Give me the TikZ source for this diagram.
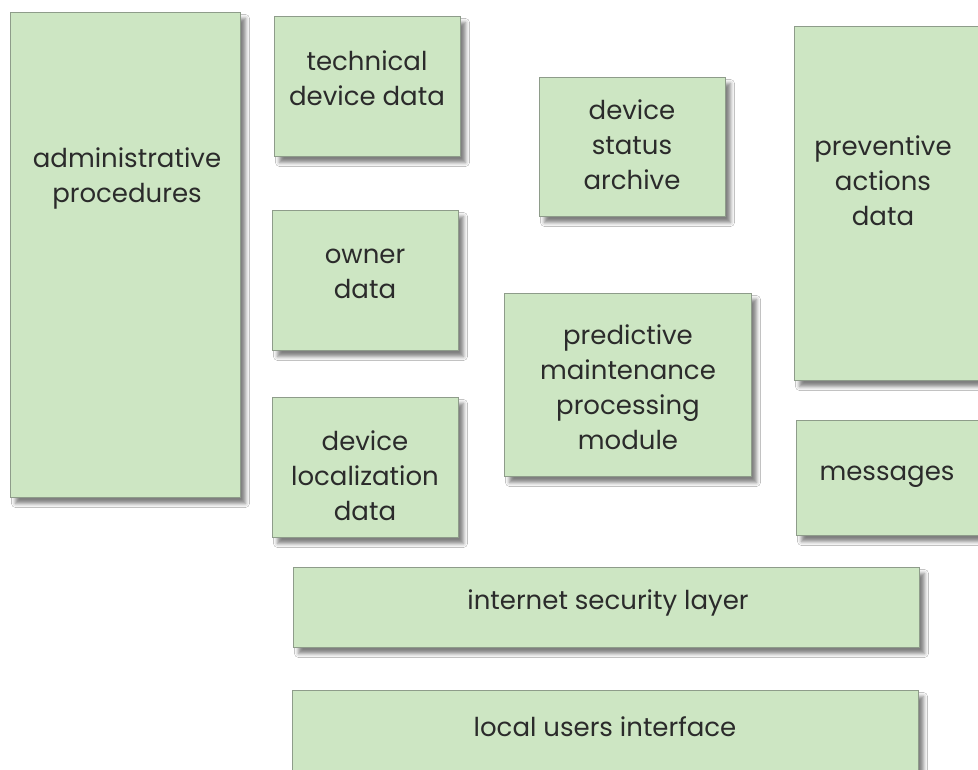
\documentclass[tikz,border=0pt]{standalone}
\usepackage{fontspec}
\setmainfont{Poppins}
\usetikzlibrary{shadows.blur}
\definecolor{boxfill}{HTML}{CDE6C3}
\definecolor{boxline}{HTML}{8E9C8A}
\definecolor{txtcol}{HTML}{2B2B2B}
\tikzset{
  box/.style={draw=boxline, line width=1pt, fill=boxfill, anchor=north west, inner sep=0pt,
    blur shadow={shadow xshift=5pt, shadow yshift=-6pt, shadow blur radius=4pt, shadow opacity=50}},
  txt/.style={align=center, text=txtcol, font=\fontsize{26}{35}\selectfont, inner sep=0pt}
}
\begin{document}
\begin{tikzpicture}[x=1pt,y=-1pt]
\useasboundingbox (0,0) rectangle (978,770);
\clip (0,0) rectangle (978,770);
\fill[white] (0,0) rectangle (978,770);
\node[box, minimum width=230pt, minimum height=485pt] (adm) at (10,12) {};
\node[box, minimum width=186pt, minimum height=140pt] (tech) at (274,16) {};
\node[box, minimum width=186pt, minimum height=139pt] (stat) at (539,77) {};
\node[box, minimum width=200pt, minimum height=354pt] (prev) at (794,26) {};
\node[box, minimum width=186pt, minimum height=140pt] (own) at (272,210) {};
\node[box, minimum width=247pt, minimum height=183pt] (pred) at (504,293) {};
\node[box, minimum width=186pt, minimum height=140pt] (loc) at (272,397) {};
\node[box, minimum width=200pt, minimum height=115pt] (msg) at (796,420) {};
\node[box, minimum width=626pt, minimum height=80pt] (sec) at (293,567) {};
\node[box, minimum width=626pt, minimum height=100pt] (lui) at (292,690) {};
\node[txt] (tadm) at (127,178) {administrative\\procedures};
\node[txt] (ttech) at (367,78) {technical\\device data};
\node[txt] (tstat) at (632,145) {device\\status\\archive};
\node[txt] (tprev) at (883,181) {preventive\\actions\\data};
\node[txt] (town) at (365,274) {owner\\data};
\node[txt] (tpred) at (628,387) {predictive\\maintenance\\processing\\module};
\node[txt] (tloc) at (365,476) {device\\localization\\data};
\node[txt] (tmsg) at (887,477) {messages};
\node[txt] (tsec) at (608,603) {internet security layer};
\node[txt] (tlui) at (605,727) {local users interface};
\end{tikzpicture}
\end{document}
